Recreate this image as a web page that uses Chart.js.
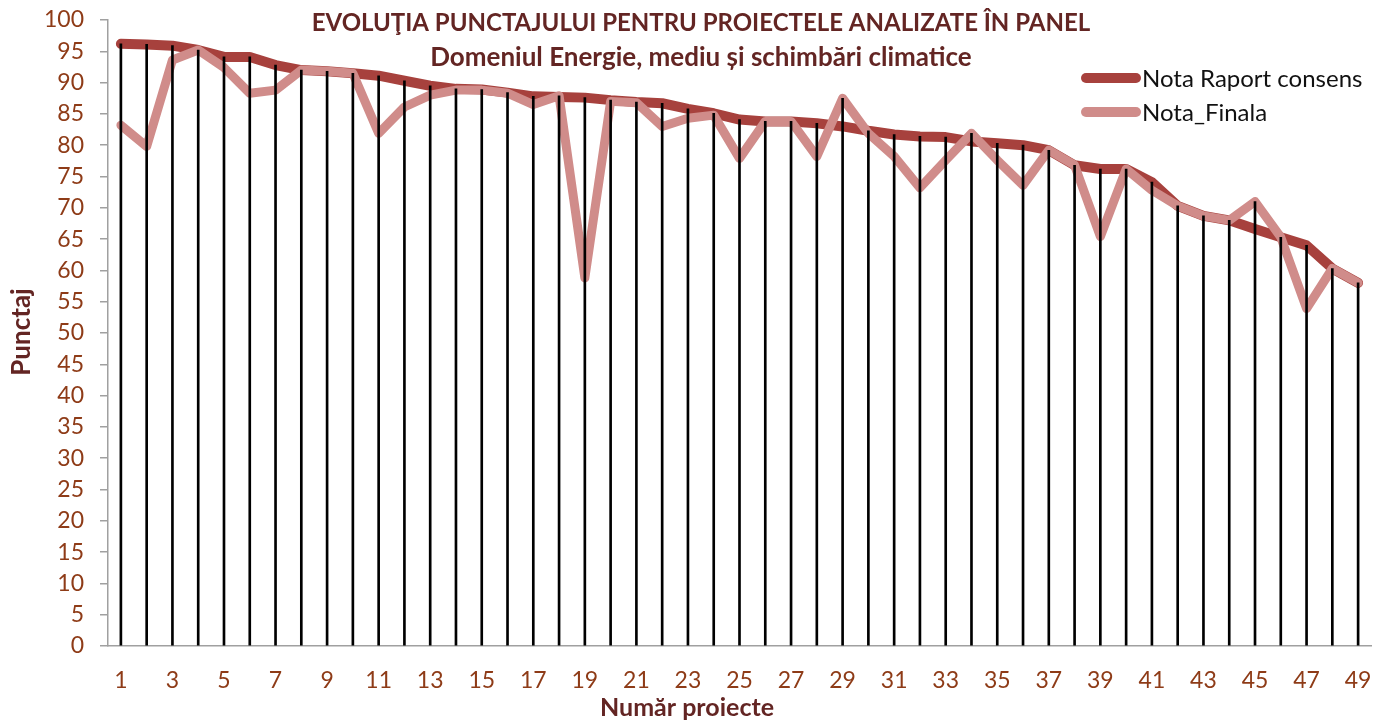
<!DOCTYPE html>
<html>
<head>
<meta charset="utf-8">
<style>
  html, body { margin: 0; padding: 0; background: #ffffff; }
  #wrap { width: 1391px; height: 726px; }
  canvas { display: block; }
</style>
<script src="https://cdn.jsdelivr.net/npm/chart.js@4.4.1/dist/chart.umd.min.js"></script>
</head>
<body>
<div id="wrap"><canvas id="c" width="1391" height="726"></canvas></div>
<script>
// ---- data ----
const categories = ['1','2','3','4','5','6','7','8','9','10','11','12','13','14','15','16','17','18','19','20',
  '21','22','23','24','25','26','27','28','29','30','31','32','33','34','35','36','37','38','39','40',
  '41','42','43','44','45','46','47','48','49'];

const notaRaportConsens = [96.2, 96.1, 95.9, 95.2, 94.1, 94.1, 92.8, 92.0, 91.8, 91.5,
  91.1, 90.3, 89.5, 89.0, 88.9, 88.4, 87.8, 87.7, 87.6, 87.2,
  86.9, 86.7, 85.8, 85.1, 84.1, 83.8, 83.8, 83.5, 83.0, 82.3,
  81.7, 81.4, 81.3, 80.6, 80.3, 80.0, 79.2, 76.8, 76.2, 76.2,
  74.1, 70.3, 68.7, 68.0, 66.6, 65.3, 64.0, 60.3, 58.0];

const notaFinala = [83.2, 79.8, 93.6, 95.2, 92.4, 88.3, 88.8, 92.0, 91.8, 91.5,
  81.9, 86.1, 88.0, 88.8, 88.8, 88.3, 86.5, 87.9, 58.8, 87.0,
  86.8, 83.0, 84.3, 84.8, 77.9, 83.8, 83.8, 78.2, 87.5, 81.9,
  78.2, 73.2, 77.6, 81.9, 77.6, 73.6, 79.2, 76.8, 65.4, 76.2,
  72.8, 70.3, 68.7, 68.0, 71.0, 65.3, 53.9, 60.3, 58.0];

const seriesNames = ['Nota Raport consens', 'Nota_Finala'];
const titleText = 'EVOLUŢIA PUNCTAJULUI PENTRU PROIECTELE ANALIZATE ÎN PANEL';
const subtitleText = 'Domeniul Energie, mediu și schimbări climatice';
const xTitle = 'Număr proiecte';
const yTitle = 'Punctaj';

// drop lines reach the higher of the two series in each category
const dropLines = categories.map((_, i) => Math.max(notaRaportConsens[i], notaFinala[i]));

const COL_CONSENS = '#A7413D';
const COL_FINALA = '#D08C8A';
const COL_TICK = '#8E3B17';
const COL_TITLE = '#632523';
const FONT = 'Lato, "Open Sans", sans-serif';

const overlayPlugin = {
  id: 'overlay',
  afterDraw(chart) {
    const ctx = chart.ctx;
    ctx.save();
    ctx.fillStyle = COL_TITLE;
    ctx.textAlign = 'center';
    ctx.textBaseline = 'middle';
    ctx.font = 'bold 24px ' + FONT;
    ctx.fillText(titleText, 701, 23);
    ctx.font = 'bold 26px ' + FONT;
    ctx.fillText(subtitleText, 701, 58);
    ctx.font = 'bold 25px ' + FONT;
    ctx.fillText(xTitle, 687, 708);
    ctx.save();
    ctx.translate(22, 332);
    ctx.rotate(-Math.PI / 2);
    ctx.font = 'bold 26px ' + FONT;
    ctx.fillText(yTitle, 0, 0);
    ctx.restore();

    // legend
    const items = [[seriesNames[0], COL_CONSENS, 78], [seriesNames[1], COL_FINALA, 112]];
    ctx.lineCap = 'round';
    ctx.lineWidth = 10;
    ctx.textAlign = 'left';
    ctx.font = '24px ' + FONT;
    for (const [name, col, y] of items) {
      ctx.strokeStyle = col;
      ctx.beginPath();
      ctx.moveTo(1086, y);
      ctx.lineTo(1136, y);
      ctx.stroke();
      ctx.fillStyle = '#111111';
      ctx.fillText(name, 1142, y + 1);
    }
    ctx.restore();
  }
};

function build() {
  new Chart(document.getElementById('c'), {
    type: 'bar',
    data: {
      labels: categories,
      datasets: [
        {
          type: 'bar',
          label: 'drop',
          data: dropLines,
          backgroundColor: '#000000',
          barThickness: 2,
          order: 0
        },
        {
          type: 'line',
          label: seriesNames[1],
          data: notaFinala,
          borderColor: COL_FINALA,
          backgroundColor: COL_FINALA,
          borderWidth: 9,
          pointRadius: 0,
          tension: 0,
          borderJoinStyle: 'round',
          borderCapStyle: 'round',
          order: 1
        },
        {
          type: 'line',
          label: seriesNames[0],
          data: notaRaportConsens,
          borderColor: COL_CONSENS,
          backgroundColor: COL_CONSENS,
          borderWidth: 10,
          pointRadius: 0,
          tension: 0,
          borderJoinStyle: 'round',
          borderCapStyle: 'round',
          order: 2
        }
      ]
    },
    options: {
      responsive: false,
      animation: false,
      devicePixelRatio: 1,
      layout: { padding: { left: 0, right: 20, top: 20, bottom: 0 } },
      plugins: {
        legend: { display: false },
        title: { display: false },
        tooltip: { enabled: false }
      },
      scales: {
        x: {
          type: 'category',
          offset: true,
          grid: { display: false },
          border: { display: true, color: '#a0a0a0', width: 1.5 },
          ticks: {
            autoSkip: false,
            maxRotation: 0,
            minRotation: 0,
            color: COL_TICK,
            font: { family: FONT, size: 23 },
            padding: 13,
            callback: (v, i) => (i % 2 === 0 ? categories[i] : '')
          },
          afterFit: (s) => { s.height = 80; }
        },
        y: {
          min: 0,
          max: 100,
          grid: {
            display: true,
            drawOnChartArea: false,
            drawTicks: true,
            tickLength: 8,
            color: '#a0a0a0',
            lineWidth: 1.5
          },
          border: { display: true, color: '#a0a0a0', width: 1.5 },
          ticks: {
            stepSize: 5,
            color: COL_TICK,
            font: { family: FONT, size: 23 },
            padding: 16
          },
          afterFit: (s) => { s.width = 108; s.paddingTop = 0; s.paddingBottom = 0; }
        }
      }
    },
    plugins: [overlayPlugin]
  });
}

if (document.fonts && document.fonts.load) {
  Promise.all([
    document.fonts.load('22px Lato'),
    document.fonts.load('bold 22px Lato')
  ]).then(build, build);
} else {
  build();
}
</script>
</body>
</html>
